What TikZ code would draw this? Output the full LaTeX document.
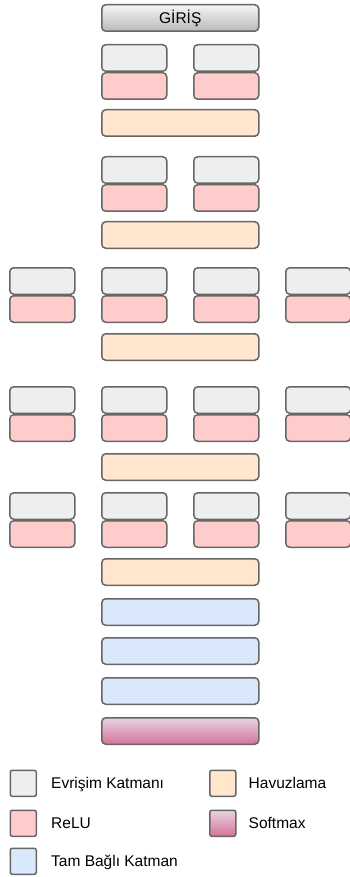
\documentclass[tikz,border=0pt]{standalone}
\usepackage{fontspec}
\setmainfont{Liberation Sans}
\usepackage{xcolor}
\definecolor{cEdge}{HTML}{666666}
\definecolor{cConv}{HTML}{EEEEEE}
\definecolor{cRelu}{HTML}{FFCCCC}
\definecolor{cPool}{HTML}{FFE6CC}
\definecolor{cDense}{HTML}{DAE8FC}
\definecolor{cSoftTop}{HTML}{E8D3E0}
\definecolor{cSoftBot}{HTML}{D5739D}
\definecolor{cInTop}{HTML}{F5F5F5}
\definecolor{cInBot}{HTML}{B8B8B8}
\usetikzlibrary{positioning}
\tikzset{
  node-layer/.style={draw=cEdge,line width=1.5pt,rounded corners=4pt,
    inner sep=0pt,anchor=north west,minimum height=26.5pt},
  node-small/.style={node-layer,minimum width=65pt},
  node-wide/.style={node-layer,minimum width=157pt},
  node-conv/.style={fill=cConv},
  node-relu/.style={fill=cRelu},
  node-pool/.style={fill=cPool},
  node-dense/.style={fill=cDense},
  node-soft/.style={top color=cSoftTop,bottom color=cSoftBot},
  node-in/.style={top color=cInTop,bottom color=cInBot,
    text height=11.1pt,text depth=0pt},
  node-key/.style={draw=cEdge,line width=1.5pt,rounded corners=2pt,
    minimum size=26pt,inner sep=0pt,anchor=north west},
  key-label/.style={inner sep=0pt,text height=11.1pt,text depth=0pt},
}

\begin{document}
\begin{tikzpicture}[x=1pt,y=-1pt,font=\fontsize{15.5}{18}\selectfont]
  \useasboundingbox (0,0) rectangle (350,877);
  \node[node-wide,node-in] (input) at (101,4) {GİRİŞ};
  % conv + relu blocks, one row per stage
  \foreach \r/\y/\cols in {1/44/{2,3},2/156/{2,3},3/267/{1,2,3,4},
                           4/386/{1,2,3,4},5/492/{1,2,3,4}}{
    \foreach \c in \cols{
      \node[node-small,node-conv] (conv-\r-\c) at ({9+92*(\c-1)},\y) {};
      \node[node-small,node-relu,below=0pt of conv-\r-\c] (relu-\r-\c) {};
    }
  }
  \node[node-wide,node-pool] (pool-1) at (101,109) {};
  \node[node-wide,node-pool] (pool-2) at (101,221) {};
  \node[node-wide,node-pool] (pool-3) at (101,333) {};
  \node[node-wide,node-pool] (pool-4) at (101,453) {};
  \node[node-wide,node-pool] (pool-5) at (101,558) {};
  \node[node-wide,node-dense] (fc-1) at (101,598) {};
  \node[node-wide,node-dense] (fc-2) at (101,637) {};
  \node[node-wide,node-dense] (fc-3) at (101,677) {};
  \node[node-wide,node-soft] (softmax) at (101,717) {};
  % legend
  \node[node-key,fill=cConv] (key-conv) at (9.5,769.5) {};
  \node[node-key,fill=cRelu] (key-relu) at (9.5,809.5) {};
  \node[node-key,fill=cDense] (key-dense) at (9.5,847.5) {};
  \node[node-key,fill=cPool] (key-pool) at (209,769.5) {};
  \node[node-key,node-soft] (key-soft) at (209,809.5) {};
  \node[key-label,right=14pt of key-conv] (lbl-conv) {Evrişim Katmanı};
  \node[key-label,right=14pt of key-relu] (lbl-relu) {ReLU};
  \node[key-label,right=14pt of key-dense] (lbl-dense) {Tam Bağlı Katman};
  \node[key-label,right=12pt of key-pool] (lbl-pool) {Havuzlama};
  \node[key-label,right=12pt of key-soft] (lbl-soft) {Softmax};
\end{tikzpicture}
\end{document}
